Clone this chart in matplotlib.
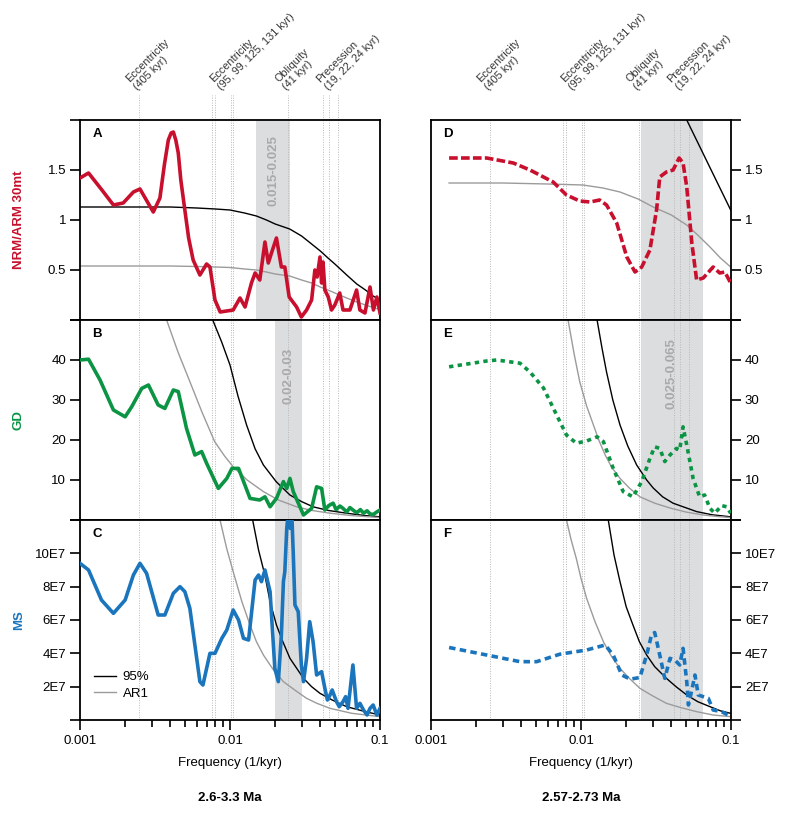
import matplotlib
matplotlib.use("Agg")
import matplotlib.pyplot as plt
import numpy as np
from matplotlib.ticker import LogLocator, NullFormatter

plt.rcParams['font.family'] = ['Liberation Sans', 'DejaVu Sans']

RED = "#C8102E"
GREEN = "#0B9444"
BLUE = "#1B75BC"
BAND = "#DCDDDF"
REF_GRAY = "#9B9B9B"
GUIDE = "#B8B8B8"

# orbital periods (kyr) for the dotted guide lines
periods = [405, 131, 125, 99, 95, 41, 24, 22, 19]
guide_groups = [[405], [95, 99, 125, 131], [41], [19, 22, 24]]
guide_labels = ["Eccentricity\n(405 kyr)", "Eccentricity\n(95, 99, 125, 131 kyr)",
                "Obliquity\n(41 kyr)", "Precession\n(19, 22, 24 kyr)"]

# ---- left column: 2.6-3.3 Ma ----
a_f = [0.001, 0.00114, 0.0014, 0.00167, 0.00194, 0.00227, 0.00251, 0.00308, 0.00341, 0.00365,
       0.00388, 0.00405, 0.00419, 0.00435, 0.00452, 0.0047, 0.005, 0.0053, 0.00568, 0.0063,
       0.00698, 0.00735, 0.00794, 0.0086, 0.0105, 0.01166,
       0.0126, 0.0139, 0.0147, 0.0158, 0.0171, 0.018, 0.0189, 0.0204, 0.022, 0.0232,
       0.0248, 0.0278, 0.0299, 0.0324, 0.035, 0.0368, 0.0381, 0.0398, 0.0408, 0.0417,
       0.0429, 0.0452, 0.0475, 0.05, 0.0539, 0.0567, 0.063, 0.0698, 0.0734, 0.0794,
       0.0858, 0.0904, 0.0953, 0.1]
a_v = [1.42, 1.47, 1.30, 1.15, 1.17, 1.28, 1.31, 1.08, 1.22, 1.55,
       1.80, 1.87, 1.88, 1.80, 1.67, 1.40, 1.10, 0.82, 0.60, 0.45,
       0.56, 0.53, 0.20, 0.08, 0.10, 0.22,
       0.13, 0.37, 0.47, 0.40, 0.78, 0.57, 0.67, 0.82, 0.53, 0.53,
       0.23, 0.13, 0.03, 0.10, 0.20, 0.50, 0.43, 0.63, 0.37, 0.58,
       0.30, 0.23, 0.10, 0.15, 0.27, 0.10, 0.10, 0.30, 0.10, 0.07,
       0.33, 0.10, 0.23, 0.07]
a_ref_f = [0.001, 0.002, 0.004, 0.006, 0.008, 0.01, 0.0125, 0.015, 0.0175, 0.02, 0.025,
           0.03, 0.035, 0.04, 0.045, 0.05, 0.06, 0.07, 0.08, 0.09, 0.1]
a_95 = [1.13, 1.13, 1.13, 1.12, 1.11, 1.10, 1.07, 1.04, 1.00, 0.96, 0.91,
        0.84, 0.76, 0.69, 0.62, 0.56, 0.45, 0.36, 0.30, 0.24, 0.20]
a_ar1 = [0.54, 0.54, 0.54, 0.535, 0.53, 0.525, 0.51, 0.50, 0.48, 0.46, 0.44,
         0.40, 0.37, 0.33, 0.30, 0.27, 0.22, 0.18, 0.15, 0.125, 0.105]

b_f = [0.001, 0.00114, 0.00136, 0.00167, 0.002, 0.00221, 0.00258, 0.00286, 0.00332, 0.00368,
       0.00419, 0.00452, 0.00513, 0.00583, 0.00647, 0.00698, 0.00836, 0.00952, 0.0103, 0.0114,
       0.0136, 0.0158, 0.0171, 0.0185, 0.0204, 0.0227, 0.0239, 0.0251, 0.0264, 0.0309,
       0.035, 0.0378, 0.0408, 0.0429, 0.0455, 0.0487, 0.051, 0.054, 0.0567, 0.06,
       0.063, 0.066, 0.07, 0.074, 0.0776, 0.082, 0.086, 0.0904, 0.095, 0.1]
b_v = [40, 40.2, 35, 27.5, 25.8, 28.3, 32.9, 33.75, 28.75, 27.9,
       32.5, 32.1, 22.9, 16.25, 17.1, 14.2, 7.9, 10.4, 12.9, 12.9,
       5.4, 5.0, 5.8, 3.3, 5.4, 9.6, 7.9, 10.4, 7.1, 1.25,
       2.9, 8.3, 7.9, 2.5, 3.6, 4.2, 2.6, 3.5, 2.9, 2.0,
       3.1, 2.5, 1.8, 2.6, 1.7, 2.3, 1.5, 1.4, 2.0, 2.5]
b95_f = [0.00767, 0.0088, 0.01, 0.0113, 0.0129, 0.0147, 0.0167, 0.0203, 0.0251, 0.03,
         0.0358, 0.045, 0.0599, 0.08, 0.1]
b95_v = [50, 44.5, 38.75, 31, 23.75, 17.8, 13.75, 9.6, 6.25, 4.6,
         3.3, 2.4, 1.7, 1.1, 0.8]
bar1_f = [0.00378, 0.0045, 0.0054, 0.0065, 0.0079, 0.0092, 0.0105, 0.013, 0.0167, 0.021,
          0.0278, 0.035, 0.0464, 0.065, 0.1]
bar1_v = [50, 42, 34.6, 27, 19.6, 16, 13.3, 10, 7.1, 5,
          3.3, 2.4, 1.7, 1.1, 0.6]

# MS values in units of 1E7
c_f = [0.001, 0.00114, 0.00139, 0.00167, 0.002, 0.00227, 0.00251, 0.00278, 0.00332, 0.00368,
       0.00419, 0.00464, 0.005, 0.0054, 0.0063, 0.0066, 0.00735, 0.00794, 0.00882, 0.00952,
       0.0105, 0.0114, 0.0123, 0.0133, 0.0147, 0.0155, 0.0162, 0.0171, 0.0185, 0.0199,
       0.021, 0.022, 0.0227, 0.0232, 0.0239, 0.0245, 0.0252, 0.0258, 0.0264, 0.0271,
       0.0285, 0.0299, 0.0309, 0.0324, 0.034, 0.0358, 0.0378, 0.0408, 0.0429, 0.0446,
       0.0464, 0.048, 0.0513, 0.0535, 0.0567, 0.059, 0.0612, 0.066, 0.0698, 0.0735,
       0.0776, 0.082, 0.0858, 0.09, 0.0953, 0.1]
c_v = [9.4, 9.0, 7.2, 6.4, 7.2, 8.7, 9.4, 8.8, 6.3, 6.3,
       7.6, 8.0, 7.7, 6.7, 2.3, 2.1, 4.0, 4.0, 4.9, 5.4,
       6.6, 6.0, 4.9, 4.8, 8.4, 8.7, 8.3, 9.0, 7.7, 3.1,
       2.3, 5.1, 8.3, 8.9, 11.5, 12.5, 11.5, 12.5, 10.0, 6.9,
       6.5, 3.3, 2.3, 3.7, 5.9, 4.7, 2.7, 2.9, 1.9, 1.2,
       1.5, 1.8, 1.1, 0.8, 1.1, 1.4, 0.7, 3.3, 0.7, 1.0,
       0.6, 0.3, 0.7, 0.9, 0.3, 0.7]
c95_f = [0.01416, 0.0155, 0.01707, 0.0185, 0.0204, 0.0225, 0.0251, 0.0309, 0.035, 0.0398,
         0.048, 0.0599, 0.08, 0.1]
c95_v = [12, 10.2, 8.7, 7.1, 5.7, 4.7, 3.7, 2.5, 2.0, 1.6,
         1.2, 0.8, 0.5, 0.3]
car1_f = [0.00858, 0.0095, 0.0105, 0.012, 0.0136, 0.015, 0.0167, 0.0195, 0.0227, 0.027,
          0.0324, 0.038, 0.0464, 0.065, 0.1]
car1_v = [12, 10.3, 8.9, 7.1, 5.7, 4.7, 3.9, 3.0, 2.3, 1.8,
          1.3, 1.0, 0.7, 0.4, 0.2]

# ---- right column: 2.57-2.73 Ma ----
d_f = [0.00132, 0.00235, 0.00354, 0.00457, 0.00652, 0.008, 0.0098, 0.0115, 0.0133, 0.0148,
       0.0173, 0.0202, 0.0229, 0.0254, 0.0288, 0.0319, 0.0335, 0.0371, 0.0411, 0.0451,
       0.0479, 0.0507, 0.0548, 0.059, 0.0653, 0.076, 0.0841, 0.091, 0.0995]
d_v = [1.62, 1.62, 1.57, 1.50, 1.38, 1.25, 1.19, 1.18, 1.20, 1.15,
       0.97, 0.63, 0.48, 0.53, 0.70, 1.10, 1.43, 1.48, 1.50, 1.62,
       1.57, 1.33, 0.77, 0.40, 0.42, 0.53, 0.47, 0.48, 0.37]
d95_f = [0.0507, 0.0995]
d95_v = [2.0, 1.1]
dar1_f = [0.00132, 0.003, 0.006, 0.0103, 0.014, 0.0182, 0.024, 0.0303, 0.04, 0.0507,
          0.06, 0.0724, 0.085, 0.0995]
dar1_v = [1.37, 1.37, 1.36, 1.35, 1.32, 1.28, 1.21, 1.13, 1.05, 0.95,
          0.85, 0.73, 0.62, 0.53]

e_f = [0.00132, 0.00235, 0.00274, 0.00392, 0.00457, 0.00562, 0.00688, 0.008, 0.0093, 0.0109,
       0.0128, 0.0141, 0.0164, 0.0191, 0.0222, 0.0254, 0.0288, 0.031, 0.0335, 0.0362,
       0.0392, 0.0433, 0.0455, 0.0479, 0.0507, 0.0559, 0.0618, 0.0667, 0.0724, 0.078,
       0.0865, 0.0936, 0.0995]
e_v = [38.3, 39.75, 40, 39.2, 37, 33, 26.25, 21.25, 19.2, 19.75,
       20.8, 19.6, 12.9, 7.1, 5.8, 9.6, 15.4, 18.3, 17.9, 14.6,
       16.25, 17.9, 17.5, 23.3, 18.75, 10.4, 5.8, 6.25, 2.9, 1.7,
       3.6, 3.3, 1.7]
e95_f = [0.0128, 0.0138, 0.0148, 0.0163, 0.0182, 0.0205, 0.0235, 0.0274, 0.0303, 0.035,
         0.0411, 0.059, 0.075, 0.0995]
e95_v = [50, 43, 37, 30, 23.75, 18.5, 13.75, 10, 8, 5.8,
         4.2, 2.1, 1.3, 0.8]
ear1_f = [0.0082, 0.009, 0.0098, 0.0109, 0.0121, 0.0132, 0.0145, 0.016, 0.0182, 0.021,
          0.0247, 0.031, 0.0392, 0.05, 0.0653, 0.08, 0.0995]
ear1_v = [50, 41.5, 34.6, 28.5, 23.75, 19.8, 16.25, 13.2, 10.4, 8,
          5.8, 4.2, 3.0, 2.0, 1.25, 0.9, 0.6]

f_f = [0.00132, 0.00235, 0.00392, 0.00506, 0.00724, 0.0109, 0.0145, 0.0164, 0.0187, 0.0213,
       0.0247, 0.0274, 0.0295, 0.031, 0.0335, 0.0362, 0.0392, 0.0422, 0.0455, 0.0479,
       0.0507, 0.052, 0.0548, 0.0575, 0.0605, 0.0653, 0.0706, 0.076, 0.0865, 0.0955]
f_v = [4.35, 3.9, 3.5, 3.5, 3.95, 4.2, 4.5, 3.9, 2.7, 2.45,
       2.55, 3.9, 5.1, 5.25, 3.9, 2.5, 3.7, 3.6, 3.3, 4.3,
       2.3, 0.9, 1.8, 2.7, 1.5, 1.4, 1.3, 0.6, 0.5, 0.3]
f95_f = [0.0152, 0.0166, 0.0182, 0.02, 0.0222, 0.0245, 0.0274, 0.031, 0.0371, 0.043,
         0.0507, 0.06, 0.0724, 0.085, 0.0995]
f95_v = [12, 9.9, 8.3, 6.8, 5.7, 4.7, 3.9, 3.2, 2.5, 2.0,
         1.5, 1.1, 0.8, 0.55, 0.4]
far1_f = [0.008, 0.0086, 0.0093, 0.01, 0.0109, 0.0124, 0.0141, 0.016, 0.0182, 0.021,
          0.0247, 0.03, 0.0371, 0.046, 0.059, 0.076, 0.0995]
far1_v = [12, 10.8, 9.7, 8.5, 7.3, 5.9, 4.7, 3.8, 3.1, 2.5,
          1.9, 1.45, 1.0, 0.75, 0.5, 0.3, 0.2]

# figure geometry (fractions of a 796 x 816 canvas)
fig = plt.figure(figsize=(7.96, 8.16), dpi=100)
col_x = [80 / 796, 431 / 796]
col_w = 300 / 796
row_y = [1 - 320 / 816, 1 - 520 / 816, 1 - 720 / 816]
row_h = 200 / 816


def setup_axis(ax, top, ticks, labels, side, bottom_row):
    """Log frequency axis, box frame and y ticks on one side."""
    ax.set_xscale('log')
    ax.set_xlim(0.001, 0.1)
    ax.set_ylim(0, top)
    ax.set_yticks([0] + ticks + [top])
    ax.set_yticklabels([''] + labels + [''])
    if side == 'right':
        ax.yaxis.tick_right()
    ax.tick_params(axis='y', direction='out', length=7, width=1.2, labelsize=9.5, pad=3)
    for sp in ax.spines.values():
        sp.set_linewidth(1.3)
    if bottom_row:
        ax.set_xticks([0.001, 0.01, 0.1])
        ax.set_xticklabels(['0.001', '0.01', '0.1'])
        ax.xaxis.set_minor_locator(LogLocator(base=10, subs=range(2, 10)))
        ax.xaxis.set_minor_formatter(NullFormatter())
        ax.tick_params(axis='x', which='major', direction='out', length=7, width=1.2,
                       labelsize=9.5, pad=4)
        ax.tick_params(axis='x', which='minor', direction='out', length=5, width=1.2)
        ax.set_xlabel("Frequency (1/kyr)", fontsize=9.5, labelpad=7)
    else:
        ax.tick_params(axis='x', which='both', bottom=False, labelbottom=False)


def add_guides(ax, band):
    ax.axvspan(band[0], band[1], color=BAND, lw=0, zorder=0)
    for p in periods:
        ax.axvline(1.0 / p, color=GUIDE, ls=(0, (1, 1.5)), lw=0.7, zorder=1)


panels = [
    # column, row, letter, data, refs, ylim, ticks, labels, colour, dash, band
    (0, 0, 'A', (a_f, a_v), ((a_ref_f, a_95), (a_ref_f, a_ar1)), 2.0,
     [0.5, 1, 1.5], ['0.5', '1', '1.5'], RED, None, (0.015, 0.025)),
    (0, 1, 'B', (b_f, b_v), ((b95_f, b95_v), (bar1_f, bar1_v)), 50,
     [10, 20, 30, 40], ['10', '20', '30', '40'], GREEN, None, (0.02, 0.03)),
    (0, 2, 'C', (c_f, c_v), ((c95_f, c95_v), (car1_f, car1_v)), 12,
     [2, 4, 6, 8, 10], ['2E7', '4E7', '6E7', '8E7', '10E7'], BLUE, None, (0.02, 0.03)),
    (1, 0, 'D', (d_f, d_v), ((d95_f, d95_v), (dar1_f, dar1_v)), 2.0,
     [0.5, 1, 1.5], ['0.5', '1', '1.5'], RED, (2.4, 0.9), (0.025, 0.065)),
    (1, 1, 'E', (e_f, e_v), ((e95_f, e95_v), (ear1_f, ear1_v)), 50,
     [10, 20, 30, 40], ['10', '20', '30', '40'], GREEN, (1.2, 1.2), (0.025, 0.065)),
    (1, 2, 'F', (f_f, f_v), ((f95_f, f95_v), (far1_f, far1_v)), 12,
     [2, 4, 6, 8, 10], ['2E7', '4E7', '6E7', '8E7', '10E7'], BLUE, (1.8, 1.2), (0.025, 0.065)),
]

axes = {}
for col, row, letter, data, refs, top, ticks, labels, color, dash, band in panels:
    ax = fig.add_axes([col_x[col], row_y[row], col_w, row_h])
    axes[letter] = ax
    setup_axis(ax, top, ticks, labels, 'left' if col == 0 else 'right', row == 2)
    add_guides(ax, band)
    ax.plot(refs[0][0], refs[0][1], color='black', lw=1.0, zorder=2, label='95%')
    ax.plot(refs[1][0], refs[1][1], color=REF_GRAY, lw=1.0, zorder=2, label='AR1')
    if dash is None:
        ax.plot(data[0], data[1], color=color, lw=2.6, zorder=3, solid_joinstyle='round')
    else:
        ax.plot(data[0], data[1], color=color, lw=2.6, zorder=3, ls=(0, dash),
                dash_capstyle='butt')
    ax.text(0.042, 0.96, letter, transform=ax.transAxes, fontsize=9.5,
            fontweight='bold', ha='left', va='top')

# band range labels
band_txt = dict(rotation=90, ha='center', va='top', color='#A9A9A9',
                fontweight='bold', fontsize=9.5, zorder=2)
axes['A'].text(np.sqrt(0.015 * 0.025), 1.85, '0.015-0.025', **band_txt)
axes['B'].text(np.sqrt(0.02 * 0.03), 43, '0.02-0.03', **band_txt)
axes['E'].text(np.sqrt(0.025 * 0.065), 45.5, '0.025-0.065', **band_txt)

# dotted guides continue above the left column
for p in periods:
    axes['A'].plot([1.0 / p, 1.0 / p], [1.0, 1.125], transform=axes['A'].get_xaxis_transform(),
                   color=GUIDE, ls=(0, (1, 1.5)), lw=0.7, clip_on=False)

# orbital cycle names above both columns
for letter in ['A', 'D']:
    ax = axes[letter]
    for grp, txt in zip(guide_groups, guide_labels):
        fx = np.exp(np.mean(np.log([1.0 / p for p in grp])))
        ax.text(fx, 1.14, txt, transform=ax.get_xaxis_transform(), rotation=45,
                rotation_mode='anchor', ha='left', va='bottom', multialignment='left',
                fontsize=7.8, color='#333333', linespacing=1.15)

# legend for reference curves
axes['C'].legend(loc='lower left', bbox_to_anchor=(0.045, 0.1), frameon=False,
                 fontsize=9.5, handlelength=1.7, handletextpad=0.5, labelspacing=0.35,
                 borderpad=0, borderaxespad=0)

# coloured proxy names on the left
for row, name, color in zip(range(3), ['NRM/ARM 30mt', 'GD', 'MS'], [RED, GREEN, BLUE]):
    fig.text(19 / 796, row_y[row] + row_h / 2, name, rotation=90, ha='center', va='center',
             color=color, fontweight='bold', fontsize=9.5)

# interval titles
fig.text(col_x[0] + col_w / 2, 1 - 798 / 816, '2.6-3.3 Ma', ha='center', va='center',
         fontweight='bold', fontsize=9.5)
fig.text(col_x[1] + col_w / 2, 1 - 798 / 816, '2.57-2.73 Ma', ha='center', va='center',
         fontweight='bold', fontsize=9.5)

fig.savefig('out.png', dpi=100)
